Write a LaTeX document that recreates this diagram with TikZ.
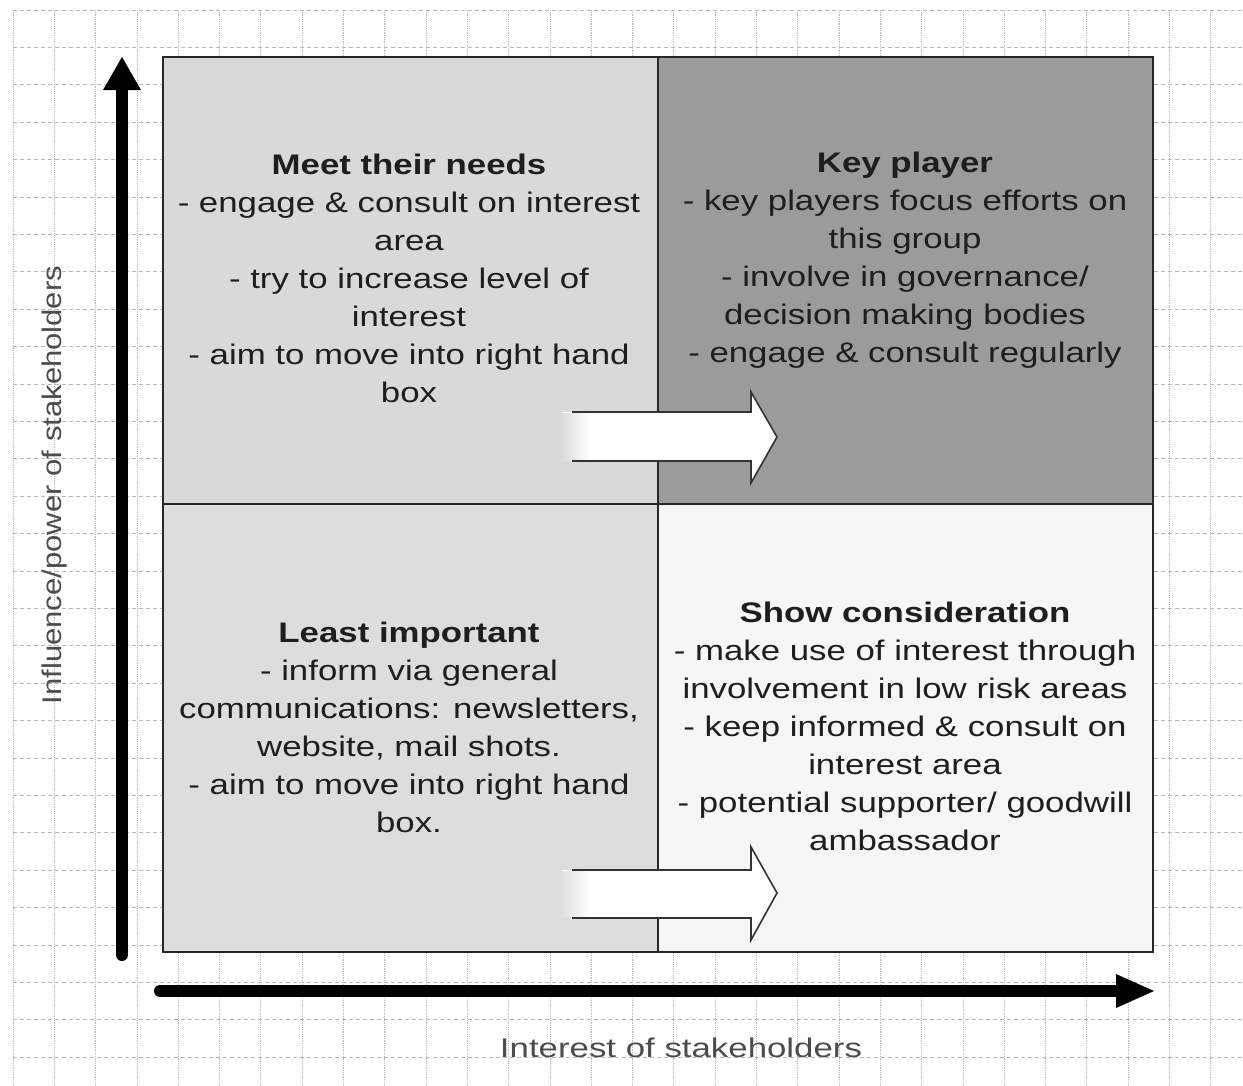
\documentclass[tikz,border=0pt]{standalone}
\usepackage{fontspec}
\setmainfont{Liberation Sans}
\definecolor{qtl}{RGB}{217,217,217}
\definecolor{qtr}{RGB}{155,155,155}
\definecolor{qbl}{RGB}{221,221,221}
\definecolor{qbr}{RGB}{246,246,246}
\definecolor{gridc}{RGB}{185,185,185}
\definecolor{txt}{RGB}{30,30,30}
\tikzset{
  quad/.style={draw=black!85, line width=2.5pt},
  qtext/.style={align=center, text=txt, font=\fontsize{28.3}{38}\selectfont, inner sep=0pt, xscale=1.23},
  axislabel/.style={text=black!70, font=\fontsize{27}{32}\selectfont, inner sep=0pt},
  blockline/.style={draw=black!80, line width=1.6pt, line join=miter},
  axisline/.style={line width=12pt, line cap=round, black},
}
\begin{document}
\begin{tikzpicture}[x=1pt,y=-1pt]
\useasboundingbox (0,0) rectangle (1243,1085);
\fill[white] (0,0) rectangle (1243,1085);
% grid
\foreach \k in {0,...,29}{
  \draw[gridc, line width=0.8pt, densely dotted] ({13+41.3*\k},10) -- ({13+41.3*\k},1085);
}
\foreach \k in {0,...,28}{
  \draw[gridc, line width=0.8pt, dashed, dash pattern=on 4pt off 3pt] (13,{10+37.4*\k}) -- (1243,{10+37.4*\k});
}
% quadrants
\fill[qtl] (163,57) rectangle (658,504);
\fill[qtr] (658,57) rectangle (1153,504);
\fill[qbl] (163,504) rectangle (658,952);
\fill[qbr] (658,504) rectangle (1153,952);
\draw[quad] (163,57) rectangle (1153,952);
\draw[black!85, line width=1.6pt] (658,57) -- (658,952);
\draw[black!85, line width=1.6pt] (163,504) -- (1153,504);

% block arrows
\fill[white] (562,412) -- (751,412) -- (751,392) -- (777,437) -- (751,483) -- (751,461) -- (562,461) -- cycle;
\shade[left color=qtl, right color=white] (560,413) rectangle (590,460);
\draw[blockline] (572,412) -- (751,412) -- (751,392) -- (777,437) -- (751,483) -- (751,461) -- (572,461);

\fill[white] (562,870) -- (751,870) -- (751,847) -- (777,893) -- (751,940) -- (751,918) -- (562,918) -- cycle;
\shade[left color=qbl, right color=white] (560,871) rectangle (590,917);
\draw[blockline] (572,870) -- (751,870) -- (751,847) -- (777,893) -- (751,940) -- (751,918) -- (572,918);

% axes
\coordinate (vb) at (122,955);
\coordinate (vt) at (122,88);
\coordinate (hl) at (160,991);
\coordinate (hr) at (1118,991);
\draw[axisline] (vb) -- (vt);
\fill[black] (103,90) -- (122,57) -- (141,90) -- cycle;
\draw[axisline] (hl) -- (hr);
\fill[black] (1116,974) -- (1154,991) -- (1116,1008) -- cycle;

% texts
\node[qtext] (tl) at (409,278) {\textbf{Meet their needs}\\- engage \& consult on interest\\area\\- try to increase level of\\interest\\- aim to move into right hand\\box};
\node[qtext] (tr) at (905,260) {\textbf{Key player}\\- key players focus efforts on\\this group\\- involve in governance/\\decision making bodies\\- engage \& consult regularly};
\node[qtext] (bl) at (409,727) {\textbf{Least important}\\- inform via general\\communications: newsletters,\\website, mail shots.\\- aim to move into right hand\\box.};
\node[qtext] (br) at (905,726) {\textbf{Show consideration}\\- make use of interest through\\involvement in low risk areas\\- keep informed \& consult on\\interest area\\- potential supporter/ goodwill\\ambassador};

\node[axislabel, rotate=90, xscale=1.15] (ylab) at (55,485) {Influence/power of stakeholders};
\node[axislabel, xscale=1.29] (xlab) at (681,1048) {Interest of stakeholders};
\end{tikzpicture}
\end{document}
